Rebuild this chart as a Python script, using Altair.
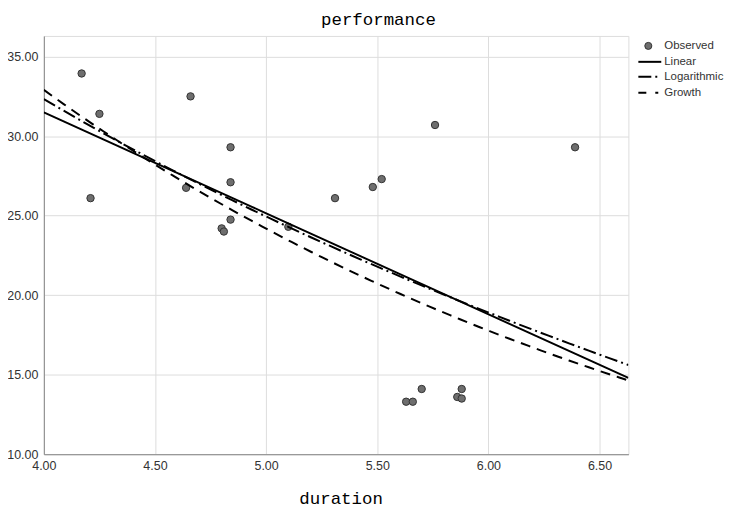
import altair as alt
import numpy as np
import pandas as pd

duration = [4.17, 4.21, 4.25, 4.66, 4.64, 4.84, 4.84, 4.84, 4.80, 4.81, 5.10,
            5.31, 5.48, 5.52, 5.76, 6.39, 5.63, 5.66, 5.70, 5.86, 5.88, 5.88]
performance = [33.94, 26.1, 31.4, 32.5, 26.75, 29.3, 27.1, 24.75, 24.2, 24.0, 24.3,
               26.1, 26.8, 27.3, 30.7, 29.3, 13.3, 13.3, 14.1, 13.6, 14.1, 13.5]

x_ticks = [4.0, 4.5, 5.0, 5.5, 6.0, 6.5]
y_ticks = [10, 15, 20, 25, 30, 35]
x_domain = [4.0, 6.63]
y_domain = [10.0, 36.3]

legend_labels = ["Observed", "Linear", "Logarithmic", "Growth"]

pts = pd.DataFrame({"duration": duration, "performance": performance})

# fitted curves from the observed data (OLS, as in SPSS curve estimation)
xa = np.array(duration)
ya = np.array(performance)
lin_b, lin_a = np.polyfit(xa, ya, 1)
log_b, log_a = np.polyfit(np.log(xa), ya, 1)
gro_b, gro_a = np.polyfit(xa, np.log(ya), 1)
xs = np.linspace(x_domain[0], x_domain[1], 60)
fits = pd.concat([
    pd.DataFrame({"duration": xs, "performance": lin_a + lin_b * xs, "model": "Linear"}),
    pd.DataFrame({"duration": xs, "performance": log_a + log_b * np.log(xs), "model": "Logarithmic"}),
    pd.DataFrame({"duration": xs, "performance": np.exp(gro_a + gro_b * xs), "model": "Growth"}),
])

xscale = alt.Scale(domain=x_domain, nice=False, zero=False)
yscale = alt.Scale(domain=y_domain, nice=False, zero=False)

xaxis = alt.Axis(values=x_ticks, format=".2f", grid=True, ticks=False,
                 labelFlush=False, labelOverlap=False, labelPadding=5,
                 labelFont="Liberation Sans", labelFontSize=12.5, labelColor="#333333",
                 title="duration", titleFont="Liberation Mono", titleFontSize=17.5,
                 titleFontWeight="normal", titleColor="#000", titleX=298, titleY=45,
                 titleBaseline="middle")
yaxis = alt.Axis(values=y_ticks, format=".2f", grid=True, ticks=False,
                 labelFlush=False, labelOverlap=False, labelPadding=6,
                 labelFont="Liberation Sans", labelFontSize=12.5, labelColor="#333333",
                 title=None)

points = alt.Chart(pts).mark_circle(size=55, color="#6e6e6e", stroke="#333333",
                                     strokeWidth=1, opacity=1).encode(
    x=alt.X("duration:Q", scale=xscale, axis=xaxis),
    y=alt.Y("performance:Q", scale=yscale, axis=yaxis),
)

def fit_line(name, dash):
    kw = dict(color="black", strokeWidth=2, clip=True)
    if dash:
        kw["strokeDash"] = dash
    return alt.Chart(fits).transform_filter(alt.datum.model == name).mark_line(**kw).encode(
        x=alt.X("duration:Q", scale=xscale),
        y=alt.Y("performance:Q", scale=yscale),
    )

lin_line = fit_line("Linear", None)
log_line = fit_line("Logarithmic", [13, 4, 2, 4])
gro_line = fit_line("Growth", [10, 7])

one = pd.DataFrame({"a": [0]})

# title
title = alt.Chart(one).mark_text(
    text="performance", font="Liberation Mono", fontSize=17.5, color="#000",
    baseline="middle", align="center"
).encode(x=alt.value(336), y=alt.value(-16))

# manual legend
leg_pt = alt.Chart(one).mark_circle(
    size=50, color="#6e6e6e", stroke="#333333", strokeWidth=1, opacity=1
).encode(x=alt.value(607), y=alt.value(10))

leg_y = [10, 26, 41, 57]

def leg_text(label, yv):
    return alt.Chart(one).mark_text(
        text=label, font="Liberation Sans", fontSize=11.5, color="#333",
        align="left", baseline="middle"
    ).encode(x=alt.value(623), y=alt.value(yv))

def leg_rule(yv, dash):
    kw = dict(color="black", strokeWidth=2)
    if dash:
        kw["strokeDash"] = dash
    return alt.Chart(one).mark_rule(**kw).encode(
        x=alt.value(597), x2=alt.value(620), y=alt.value(yv))

texts = [leg_text(l, yv) for l, yv in zip(legend_labels, leg_y)]
leg_lin = leg_rule(leg_y[1], None)
leg_log = leg_rule(leg_y[2], [13, 4, 2, 4])
leg_gro = leg_rule(leg_y[3], [8, 9, 3, 4])

chart = alt.layer(
    points, lin_line, log_line, gro_line, title, leg_pt, *texts, leg_lin, leg_log, leg_gro
).properties(
    width=587, height=420,
    autosize=alt.AutoSizeParams(type="none"),
    padding={"left": 36, "top": 27, "right": 96, "bottom": 60},
).configure_view(stroke=None).configure_axis(
    domainColor="#888888", domainWidth=1.5, gridColor="#d4d4d4", gridWidth=1,
).configure(background="white")

chart.save("out.html", embed_options={"renderer": "svg", "actions": False})
